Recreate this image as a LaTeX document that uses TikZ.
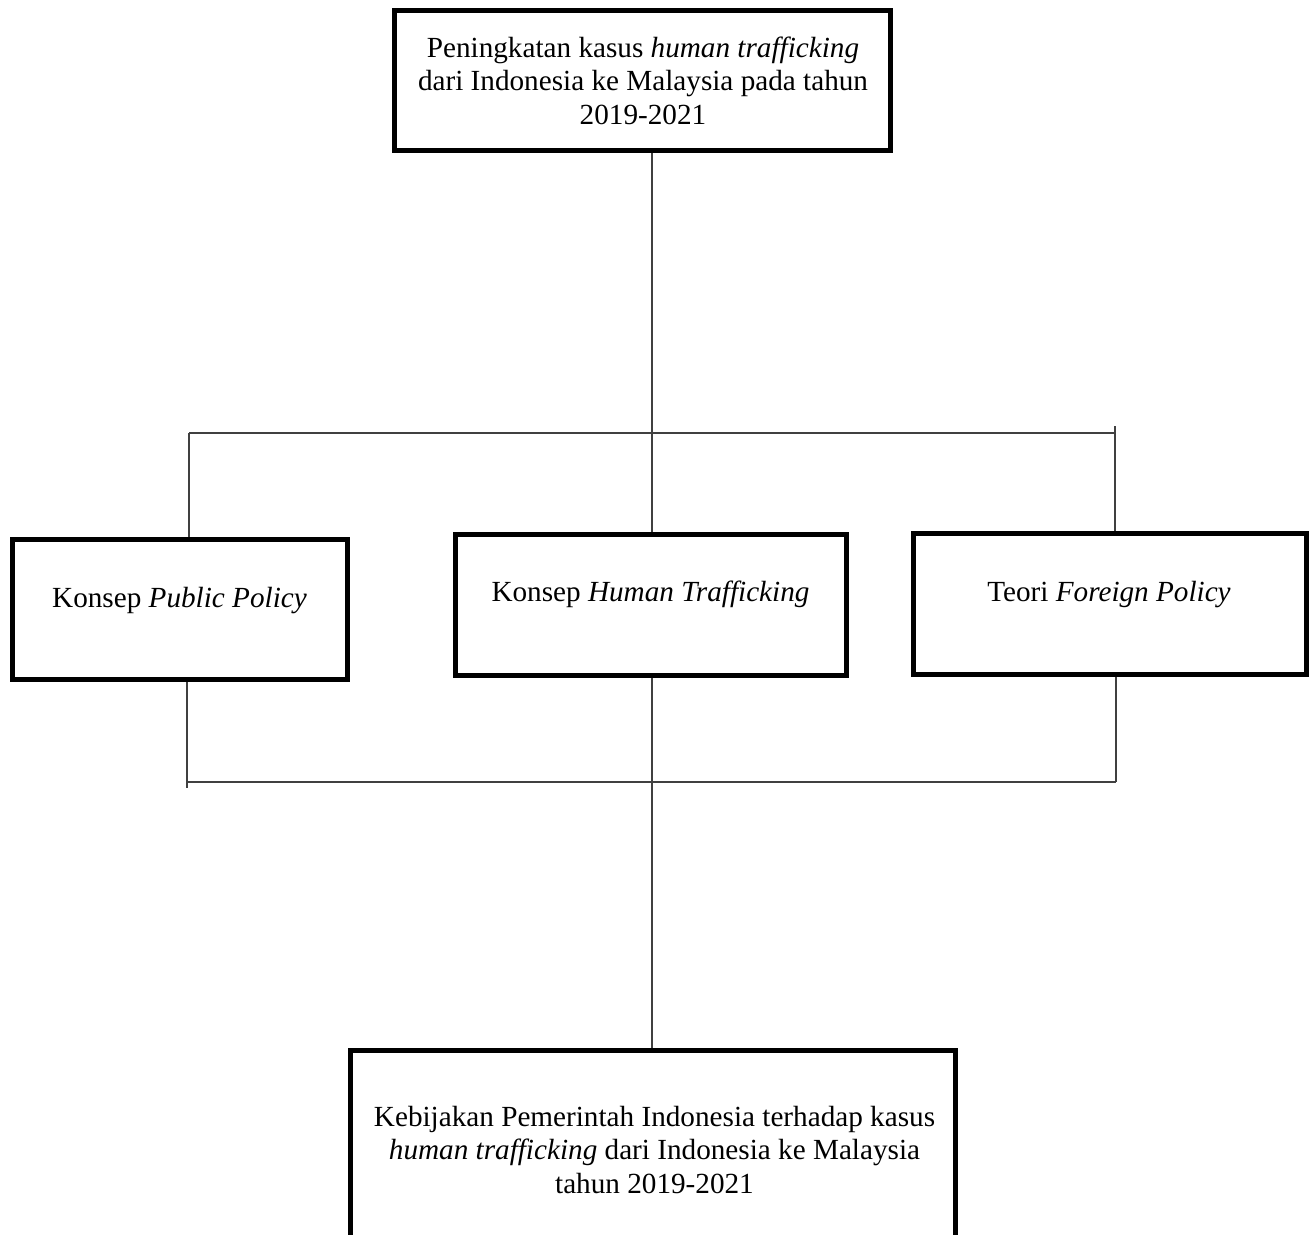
\documentclass[tikz,border=0pt]{standalone}
\usepackage{fontspec}
\setmainfont{Liberation Serif}
\begin{document}
\begin{tikzpicture}[x=1pt,y=-1pt,
  boxnode/.style={draw=black,line width=5pt,inner sep=0pt,rectangle},
  txt/.style={inner sep=0pt,align=center,anchor=base,font=\fontsize{29.2}{33.5}\selectfont},
  conn/.style={draw=black!75,line width=1.8pt}]
\useasboundingbox[fill=white] (0,0) rectangle (1316,1234);
% boxes
\node[boxnode,minimum width=496.5pt,minimum height=140.5pt] (top) at (642.25,80.25) {};
\node[boxnode,minimum width=335pt,minimum height=140.5pt] (left) at (180,609.25) {};
\node[boxnode,minimum width=391.5pt,minimum height=141pt] (mid) at (650.75,604.5) {};
\node[boxnode,minimum width=393pt,minimum height=140.5pt] (right) at (1109.5,603.75) {};
\node[boxnode,minimum width=605.5pt,minimum height=210pt] (bot) at (652.75,1155) {};
% texts (base anchor = baseline of last line)
\node[txt] (toptxt) at (643,124) {Peningkatan kasus \textit{human trafficking}\\dari Indonesia ke Malaysia pada tahun\\2019-2021};
\node[txt] (lefttxt) at (179.5,607) {Konsep \textit{Public Policy}};
\node[txt] (midtxt) at (650.5,601.7) {Konsep \textit{Human Trafficking}};
\node[txt] (righttxt) at (1109,601.7) {Teori \textit{Foreign Policy}};
\node[txt] (bottxt) at (654.5,1193) {Kebijakan Pemerintah Indonesia terhadap kasus\\\textit{human trafficking} dari Indonesia ke Malaysia\\tahun 2019-2021};
% junction coordinates
\coordinate (ul) at (189,433);
\coordinate (um) at (652,433);
\coordinate (ur) at (1115,433);
\coordinate (urt) at (1115,426);
\coordinate (ll) at (187,782);
\coordinate (llb) at (187,788);
\coordinate (lr) at (1116,782);
% upper connectors
\draw[conn] (top.south -| um) -- (mid.north -| um);
\draw[conn] (ul) -- (ur);
\draw[conn] (ul) -- (left.north -| ul);
\draw[conn] (urt) -- (right.north -| ur);
% lower connectors
\draw[conn] (left.south -| ll) -- (llb);
\draw[conn] (right.south -| lr) -- (lr);
\draw[conn] (ll) -- (lr);
\draw[conn] (mid.south -| um) -- (bot.north -| um);
\end{tikzpicture}
\end{document}
